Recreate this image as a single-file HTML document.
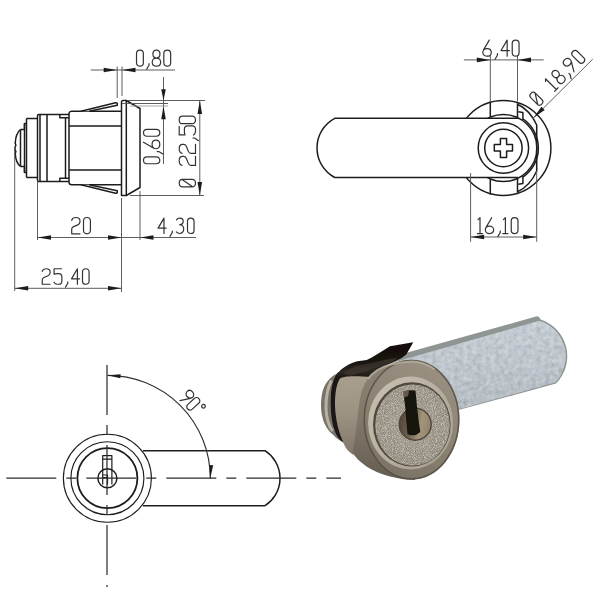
<!DOCTYPE html>
<html><head><meta charset="utf-8"><title>Cam lock drawing</title><style>
html,body{margin:0;padding:0;background:#fff;overflow:hidden;font-family:"Liberation Sans",sans-serif}
svg{display:block}
.ol{fill:none;stroke:#1e1e1e;stroke-width:1.5;stroke-linejoin:round}
.dm{fill:none;stroke:#555;stroke-width:0.95}
.dm2{fill:none;stroke:#9a9a9a;stroke-width:0.9}
.arc{fill:none;stroke:#2e2e2e;stroke-width:1.15}
.cl{fill:none;stroke:#2a2a2a;stroke-width:1.2;stroke-dasharray:50 10 10 10}
.t path{vector-effect:non-scaling-stroke}
</style></head>
<body><svg width="600" height="600" viewBox="0 0 600 600">
<rect width="600" height="600" fill="#fff"/>

<defs>
 <filter id="grain" x="-5%" y="-5%" width="110%" height="110%">
  <feTurbulence type="fractalNoise" baseFrequency="1.1" numOctaves="2" seed="7" result="n"/>
  <feColorMatrix in="n" type="saturate" values="0" result="g"/>
  <feComponentTransfer in="g" result="g2">
   <feFuncR type="linear" slope="0.8" intercept="0.1"/>
   <feFuncG type="linear" slope="0.8" intercept="0.1"/>
   <feFuncB type="linear" slope="0.8" intercept="0.1"/>
   <feFuncA type="linear" slope="0" intercept="1"/>
  </feComponentTransfer>
  <feBlend in="SourceGraphic" in2="g2" mode="overlay" result="b"/>
  <feComposite in="b" in2="SourceGraphic" operator="in"/>
 </filter>
 <filter id="grain2" x="-5%" y="-5%" width="110%" height="110%">
  <feTurbulence type="fractalNoise" baseFrequency="0.22" numOctaves="3" seed="11" result="n"/>
  <feColorMatrix in="n" type="saturate" values="0" result="g"/>
  <feComponentTransfer in="g" result="g2">
   <feFuncR type="linear" slope="0.4" intercept="0.3"/>
   <feFuncG type="linear" slope="0.4" intercept="0.3"/>
   <feFuncB type="linear" slope="0.4" intercept="0.3"/>
   <feFuncA type="linear" slope="0" intercept="1"/>
  </feComponentTransfer>
  <feBlend in="SourceGraphic" in2="g2" mode="overlay" result="b"/>
  <feComposite in="b" in2="SourceGraphic" operator="in"/>
 </filter>
 <filter id="lineblur" x="0" y="0" width="100%" height="100%" filterUnits="userSpaceOnUse"><feGaussianBlur stdDeviation="0.35"/></filter>
 <filter id="soft" x="-5%" y="-5%" width="110%" height="110%"><feGaussianBlur stdDeviation="0.6"/></filter>
 <linearGradient id="clipG" x1="0" y1="0" x2="0.1" y2="1"><stop offset="0" stop-color="#100e0c"/><stop offset="0.55" stop-color="#17130f"/><stop offset="0.8" stop-color="#2e2823"/><stop offset="1" stop-color="#1a1511"/></linearGradient>
 <linearGradient id="levG" x1="0" y1="0" x2="0.15" y2="1"><stop offset="0" stop-color="#c8cfd6"/><stop offset="0.5" stop-color="#bfc7ce"/><stop offset="1" stop-color="#b3bbc2"/></linearGradient>
 <linearGradient id="bodyG" x1="0" y1="0" x2="0" y2="1"><stop offset="0" stop-color="#a89f8f"/><stop offset="0.4" stop-color="#9e9484"/><stop offset="1" stop-color="#7b7366"/></linearGradient>
 <linearGradient id="sideG" x1="0" y1="0" x2="0" y2="1"><stop offset="0" stop-color="#8c8374"/><stop offset="0.5" stop-color="#80786a"/><stop offset="1" stop-color="#655d51"/></linearGradient>
 <linearGradient id="bezG" x1="0.7" y1="0" x2="0.3" y2="1"><stop offset="0" stop-color="#9a9182"/><stop offset="0.5" stop-color="#8c8374"/><stop offset="1" stop-color="#7a7264"/></linearGradient>
 <linearGradient id="rimG" x1="0" y1="0" x2="1" y2="1"><stop offset="0" stop-color="#c9c2b3"/><stop offset="1" stop-color="#a59e8f"/></linearGradient>
 <radialGradient id="faceG" cx="0.5" cy="0.45" r="0.6"><stop offset="0" stop-color="#aaa395"/><stop offset="1" stop-color="#9b9486"/></radialGradient>
 <linearGradient id="plugG" x1="0" y1="0" x2="1" y2="0.2"><stop offset="0" stop-color="#4e4335"/><stop offset="0.45" stop-color="#6e614e"/><stop offset="0.75" stop-color="#a3957b"/><stop offset="1" stop-color="#948670"/></linearGradient>
 <linearGradient id="backG" x1="0" y1="0" x2="1" y2="0">
  <stop offset="0" stop-color="#a09a8f"/><stop offset="0.35" stop-color="#6f695f"/><stop offset="1" stop-color="#4a453e"/>
 </linearGradient>
</defs>
<g id="photo" filter="url(#soft)">
 <!-- lever -->
 <path d="M385,358.8 L536,316.5 Q539,315.6 540.6,319.6 A38.6,38.6 0 0 1 556,383.6 L440,415 L400,420 Z" fill="#8f9592"/>
 <path d="M385,364.7 L539,320.8 A37,37 0 0 1 555,382.5 L440,414.6 L400,420 Z" fill="url(#levG)" filter="url(#grain2)"/>
 <!-- back ring -->
 <path d="M342,372.3 C333,373.5 326,381 323,390 C320.5,398 320.5,410 322.3,416.7 C324,424 328,431 333.7,435.3 C336,438 338.5,440 342,441.5 Z" fill="#77726a"/>
 <path d="M331.5,380.5 C327.5,388 325.8,398 326,408 C326.2,418 328.3,425 332.5,431" fill="none" stroke="#b9b2a2" stroke-width="3"/>
 <!-- black clip band -->
 <path d="M338,372.3 C333.5,378 331.2,386 330.8,397 C330.4,410 331.5,422 334.5,430 C336.5,436 339.5,440 343,442.5 L347,442 L346,375 Z" fill="#1b1713"/>
 <!-- clip top wedge -->
 <path d="M336,376 L338.3,372.5 C341,369.5 344,367.3 346.7,365.8 C350,363.6 354,361.8 357.5,361.2 L366.7,360 L371.7,357.5 L380,352.5 L390,346.3 L413.3,342.3 L406.3,354.5 L401.7,358 L385,366 L366,379 L352,377 L340,378 Z" fill="url(#clipG)"/>
 <path d="M343,373 C350,367.5 358,365 368,364 L386,359.5 L398,357.5 L392,362 L372,369.5 L350,376 Z" fill="#3a332c" opacity="0.85"/>
 <!-- body -->
 <path d="M340,378.5 C343,376.6 350,375.8 358,376.3 L372,377 L372,462 L352,454 C347.5,451 345,447 343.5,443 C339,433 335.3,420 335,405 C335,392 336.6,383.5 340,378.5 Z" fill="url(#bodyG)"/>
 <!-- bezel side -->
 <path d="M413,359.8 C401,360.5 386,364 375,371 C366,377.5 361,390 359,405 C357,420 355.5,440 352.5,452.5 C358,462 372,472 390,476.5 C400,479 408,480 415,480 Z" fill="url(#sideG)"/>
 <!-- bezel front -->
 <ellipse cx="411.5" cy="419.6" rx="48" ry="59.9" fill="url(#bezG)"/>
 <ellipse cx="411.5" cy="419.6" rx="47.2" ry="59.1" fill="none" stroke="#4e473d" stroke-width="1.6" opacity="0.75"/>
 <path d="M368,379 C373,372 380,367.5 390,364.8 C398,362.6 405,361.6 411.5,361.5 A46.3,58.1 0 0 1 434.6,369.3" fill="none" stroke="#b9b1a2" stroke-width="2.2" opacity="0.75"/>
 <ellipse cx="410.6" cy="423" rx="42.5" ry="46.4" fill="url(#rimG)"/>
 <ellipse cx="411.8" cy="424.4" rx="38.8" ry="42.1" fill="#4f483e"/>
 <ellipse cx="412.5" cy="425" rx="37.2" ry="40.5" fill="url(#faceG)" filter="url(#grain)"/>
 <!-- plug -->
 <circle cx="415.2" cy="424.2" r="16" fill="url(#plugG)" stroke="#4f463a" stroke-width="1.4"/>
 <path d="M403.3,391.5 Q409,389.6 415.5,390.6 L417,407 L418.7,421 L420.3,432 Q414.5,437.5 407.5,434 L406.3,421 L405.2,407 Z" fill="#17120e"/>
 <path d="M403.3,391.5 Q406,390.5 409,390.4 L408.2,396 L404,397.5 Z" fill="#7a6d5e" opacity="0.8"/>
</g>

<g filter="url(#lineblur)">
<path class="ol" d="M20.5,129.5 C17.6,131.8 15.6,137 15.2,143.2 L15.9,145.2 L15,147.2 L15,149.6 L15.9,151.6 L15.2,153.6 C15.6,159.5 17.6,164.3 20.5,166.5" />
<line class="ol" x1="20.5" y1="129.5" x2="20.5" y2="166.5"/>
<path class="ol" d="M20.5,129.5 L24.5,129.5 M20.5,166.5 L24.5,166.5" />
<path class="ol" d="M24.5,166.5 L24.5,172.5 L26.5,172.5 M24.5,129.5 L24.5,123.5 L26.5,123.5" />
<line class="ol" x1="24.5" y1="123.5" x2="24.5" y2="172.5"/>
<line class="ol" x1="26.5" y1="118.5" x2="26.5" y2="177.5"/>
<path class="ol" d="M26.5,118.5 L37.5,118.5 M26.5,177.5 L37.5,177.5" />
<path class="ol" d="M37.5,180.5 L37.5,115.5 Q37.5,114.5 38.5,114.5 L69,114.5 M37.5,180.5 Q37.5,181.5 38.5,181.5 L69,181.5" />
<line class="ol" x1="40" y1="114.5" x2="40" y2="181.5"/>
<line class="ol" x1="47" y1="114.5" x2="47" y2="181.5"/>
<path class="ol" d="M59.8,114.5 L59.8,117.8 L69,117.8 M59.8,181.5 L59.8,178.2 L69,178.2" />
<line class="ol" x1="65.5" y1="118" x2="65.5" y2="178"/>
<path class="ol" d="M69,182.7 L69,113.3 Q69.5,111.3 71.5,111.3 L121.5,111.3 M69,182.7 Q69.5,184.7 71.5,184.7 L121.5,184.7" />
<line class="ol" x1="69" y1="126" x2="121.5" y2="126"/>
<line class="ol" x1="69" y1="170" x2="121.5" y2="170"/>
<path class="ol" d="M81,111.3 L115.5,102.8 Q117.5,102.6 117.3,104.5 L117.3,105.3 L89,111.3" style="fill:#fff"/>
<path class="ol" d="M81,184.7 L115.5,193.2 Q117.5,193.4 117.3,191.5 L117.3,190.7 L89,184.7" style="fill:#fff"/>
<path class="ol" d="M121.5,195.5 L121.5,101.8 Q121.6,100.5 123,100.5 L126.3,100.5 L140,108.5 L140,187.5 L126.3,195.5 Z" style="fill:#fff"/>
<line class="ol" x1="126.3" y1="100.5" x2="126.3" y2="195.5"/>
<line class="dm" x1="90.8" y1="70" x2="175" y2="70"/>
<polygon fill="#1e1e1e" points="117.20,70.00 103.70,72.30 103.70,67.70"/>
<polygon fill="#1e1e1e" points="122.00,70.00 135.50,67.70 135.50,72.30"/>
<line class="dm" x1="117.2" y1="66.5" x2="117.2" y2="98"/>
<line class="dm" x1="122" y1="66.5" x2="122" y2="96"/>
<g transform="translate(0,66.2) scale(1.0063,1.0063)" fill="none" stroke="#333" stroke-width="1.2" stroke-linecap="round" stroke-linejoin="round" class="t" role="img" aria-label="0,80"><title>0,80</title><path transform="translate(134.752,0)" d="M0.9,-12.6 C0.9,-14.8 2.3,-16 4.3,-16 C6.3,-16 7.7,-14.8 7.7,-12.6 L7.7,-3.4 C7.7,-1.2 6.3,0 4.3,0 C2.3,0 0.9,-1.2 0.9,-3.4 Z"/><path transform="translate(145.389,0)" d="M2.7,-2.6 L2.7,-1 L0.3,3"/><path transform="translate(151.155,0)" d="M4.3,-8.1 C2.2,-8.1 0.8,-9.6 0.8,-12 C0.8,-14.5 2.3,-16 4.3,-16 C6.3,-16 7.8,-14.5 7.8,-12 C7.8,-9.6 6.4,-8.1 4.3,-8.1 Z M4.3,-8.1 C1.8,-8.1 0.1,-6.5 0.1,-4 C0.1,-1.5 1.8,0 4.3,0 C6.8,0 8.5,-1.5 8.5,-4 C8.5,-6.5 6.8,-8.1 4.3,-8.1 Z"/><path transform="translate(161.883,0)" d="M0.9,-12.6 C0.9,-14.8 2.3,-16 4.3,-16 C6.3,-16 7.7,-14.8 7.7,-12.6 L7.7,-3.4 C7.7,-1.2 6.3,0 4.3,0 C2.3,0 0.9,-1.2 0.9,-3.4 Z"/></g>
<line class="dm" x1="163.5" y1="77" x2="163.5" y2="164"/>
<polygon fill="#1e1e1e" points="163.50,100.30 161.20,89.30 165.80,89.30"/>
<polygon fill="#1e1e1e" points="163.50,106.20 165.80,119.20 161.20,119.20"/>
<line class="dm" x1="128" y1="100.5" x2="205" y2="100.5"/>
<line class="dm" x1="122" y1="103.5" x2="168" y2="103.5"/>
<line class="dm2" x1="130" y1="106" x2="168" y2="106"/>
<g transform="translate(159.8,164) rotate(-90) scale(1.0188,1.0188)" fill="none" stroke="#333" stroke-width="1.2" stroke-linecap="round" stroke-linejoin="round" class="t" role="img" aria-label="0,60"><title>0,60</title><path transform="translate(-0.655,0)" d="M0.9,-12.6 C0.9,-14.8 2.3,-16 4.3,-16 C6.3,-16 7.7,-14.8 7.7,-12.6 L7.7,-3.4 C7.7,-1.2 6.3,0 4.3,0 C2.3,0 0.9,-1.2 0.9,-3.4 Z"/><path transform="translate(9.516,0)" d="M2.7,-2.6 L2.7,-1 L0.3,3"/><path transform="translate(14.769,0)" d="M6.6,-16 L0.9,-6.3 M0.2,-3.8 C0.2,-1.6 2,0 4.4,0 C6.8,0 8.6,-1.6 8.6,-3.8 C8.6,-6 6.8,-7.6 4.4,-7.6 C2,-7.6 0.2,-6 0.2,-3.8 Z"/><path transform="translate(26.339,0)" d="M0.9,-12.6 C0.9,-14.8 2.3,-16 4.3,-16 C6.3,-16 7.7,-14.8 7.7,-12.6 L7.7,-3.4 C7.7,-1.2 6.3,0 4.3,0 C2.3,0 0.9,-1.2 0.9,-3.4 Z"/></g>
<line class="dm" x1="199.8" y1="100.5" x2="199.8" y2="195.5"/>
<polygon fill="#1e1e1e" points="199.80,100.50 202.10,114.00 197.50,114.00"/>
<polygon fill="#1e1e1e" points="199.80,195.50 197.50,182.00 202.10,182.00"/>
<line class="dm" x1="130" y1="195.5" x2="204" y2="195.5"/>
<g transform="translate(195.5,187) rotate(-90) scale(1.1206,1.0188)" fill="none" stroke="#333" stroke-width="1.2" stroke-linecap="round" stroke-linejoin="round" class="t" role="img" aria-label="Ø 22,50"><title>Ø 22,50</title><path transform="translate(-0.811,0)" d="M0.9,-12.6 C0.9,-14.8 2.3,-16 4.3,-16 C6.3,-16 7.7,-14.8 7.7,-12.6 L7.7,-3.4 C7.7,-1.2 6.3,0 4.3,0 C2.3,0 0.9,-1.2 0.9,-3.4 Z M0.9,-2.5 L7.7,-13.5"/><path transform="translate(19.075,0)" d="M0.2,-13.2 C0.7,-15.2 2.2,-16 4.3,-16 C6.6,-16 8.3,-15 8.3,-12.8 L8.3,-11.5 C8.3,-10.2 7.6,-9.4 6.2,-8.8 L2,-7 C0.8,-6.5 0.2,-5.6 0.2,-4.5 L0.2,0 L8.3,0"/><path transform="translate(29.783,0)" d="M0.2,-13.2 C0.7,-15.2 2.2,-16 4.3,-16 C6.6,-16 8.3,-15 8.3,-12.8 L8.3,-11.5 C8.3,-10.2 7.6,-9.4 6.2,-8.8 L2,-7 C0.8,-6.5 0.2,-5.6 0.2,-4.5 L0.2,0 L8.3,0"/><path transform="translate(41.016,0)" d="M2.7,-2.6 L2.7,-1 L0.3,3"/><path transform="translate(46.203,0)" d="M8,-16 L0.3,-16 L0.3,-10.3 C1.3,-10.7 2.3,-10.9 3.5,-10.9 L5.2,-10.9 C7.2,-10.9 8.3,-9.5 8.3,-7.6 L8.3,-3 C8.3,-1.1 7.1,0 5.2,0 L3.6,0 C2,0 0.9,-0.7 0.2,-2"/><path transform="translate(55.586,0)" d="M0.9,-12.6 C0.9,-14.8 2.3,-16 4.3,-16 C6.3,-16 7.7,-14.8 7.7,-12.6 L7.7,-3.4 C7.7,-1.2 6.3,0 4.3,0 C2.3,0 0.9,-1.2 0.9,-3.4 Z"/></g>
<line class="dm" x1="14.7" y1="150" x2="14.7" y2="291"/>
<line class="dm" x1="37.5" y1="182" x2="37.5" y2="240"/>
<line class="dm" x1="121.5" y1="198" x2="121.5" y2="292"/>
<line class="dm" x1="140" y1="191" x2="140" y2="240"/>
<line class="dm" x1="37.5" y1="237.5" x2="196" y2="237.5"/>
<polygon fill="#1e1e1e" points="37.50,237.50 51.00,235.20 51.00,239.80"/>
<polygon fill="#1e1e1e" points="121.50,237.50 108.00,239.80 108.00,235.20"/>
<polygon fill="#1e1e1e" points="140.00,237.50 153.50,235.20 153.50,239.80"/>
<g transform="translate(0,233.8) scale(1.0188,1.0188)" fill="none" stroke="#333" stroke-width="1.2" stroke-linecap="round" stroke-linejoin="round" class="t" role="img" aria-label="20"><title>20</title><path transform="translate(70.180,0)" d="M0.2,-13.2 C0.7,-15.2 2.2,-16 4.3,-16 C6.6,-16 8.3,-15 8.3,-12.8 L8.3,-11.5 C8.3,-10.2 7.6,-9.4 6.2,-8.8 L2,-7 C0.8,-6.5 0.2,-5.6 0.2,-4.5 L0.2,0 L8.3,0"/><path transform="translate(81.063,0)" d="M0.9,-12.6 C0.9,-14.8 2.3,-16 4.3,-16 C6.3,-16 7.7,-14.8 7.7,-12.6 L7.7,-3.4 C7.7,-1.2 6.3,0 4.3,0 C2.3,0 0.9,-1.2 0.9,-3.4 Z"/></g>
<g transform="translate(0,233.5) scale(0.9625,0.9625)" fill="none" stroke="#333" stroke-width="1.2" stroke-linecap="round" stroke-linejoin="round" class="t" role="img" aria-label="4,30"><title>4,30</title><path transform="translate(164.260,0)" d="M6.1,0 L6.1,-16 L0,-5.6 L8.4,-5.6"/><path transform="translate(176.323,0)" d="M2.7,-2.6 L2.7,-1 L0.3,3"/><path transform="translate(183.069,0)" d="M0.3,-14.2 C1,-15.4 2.2,-16 3.7,-16 C5.9,-16 7.3,-14.7 7.3,-12.6 C7.3,-10.4 5.8,-9.1 3.4,-9.1 M3.4,-9.1 C6.2,-9.1 7.8,-7.5 7.8,-4.8 C7.8,-1.8 6,0 3.6,0 C2.1,0 0.9,-0.6 0.1,-1.6"/><path transform="translate(193.905,0)" d="M0.9,-12.6 C0.9,-14.8 2.3,-16 4.3,-16 C6.3,-16 7.7,-14.8 7.7,-12.6 L7.7,-3.4 C7.7,-1.2 6.3,0 4.3,0 C2.3,0 0.9,-1.2 0.9,-3.4 Z"/></g>
<line class="dm" x1="14.7" y1="288.3" x2="121.5" y2="288.3"/>
<polygon fill="#1e1e1e" points="14.70,288.30 28.20,286.00 28.20,290.60"/>
<polygon fill="#1e1e1e" points="121.50,288.30 108.00,290.60 108.00,286.00"/>
<g transform="translate(0,284.25) scale(0.9688,0.9688)" fill="none" stroke="#333" stroke-width="1.2" stroke-linecap="round" stroke-linejoin="round" class="t" role="img" aria-label="25,40"><title>25,40</title><path transform="translate(43.413,0)" d="M0.2,-13.2 C0.7,-15.2 2.2,-16 4.3,-16 C6.6,-16 8.3,-15 8.3,-12.8 L8.3,-11.5 C8.3,-10.2 7.6,-9.4 6.2,-8.8 L2,-7 C0.8,-6.5 0.2,-5.6 0.2,-4.5 L0.2,0 L8.3,0"/><path transform="translate(55.542,0)" d="M8,-16 L0.3,-16 L0.3,-10.3 C1.3,-10.7 2.3,-10.9 3.5,-10.9 L5.2,-10.9 C7.2,-10.9 8.3,-9.5 8.3,-7.6 L8.3,-3 C8.3,-1.1 7.1,0 5.2,0 L3.6,0 C2,0 0.9,-0.7 0.2,-2"/><path transform="translate(67.313,0)" d="M2.7,-2.6 L2.7,-1 L0.3,3"/><path transform="translate(73.806,0)" d="M6.1,0 L6.1,-16 L0,-5.6 L8.4,-5.6"/><path transform="translate(84.261,0)" d="M0.9,-12.6 C0.9,-14.8 2.3,-16 4.3,-16 C6.3,-16 7.7,-14.8 7.7,-12.6 L7.7,-3.4 C7.7,-1.2 6.3,0 4.3,0 C2.3,0 0.9,-1.2 0.9,-3.4 Z"/></g>
<circle class="ol" cx="503.4" cy="148" r="47.5"/>
<path class="ol" d="M522.9,118.9 A35.1,35.1 0 0 1 522.9,177.1" />
<circle class="ol" cx="503.4" cy="148" r="33.5"/>
<path class="ol" d="M518,118.3 L334.7,118.3 A33.6,33.6 0 0 0 334.7,177.5 L518,177.5" style="fill:#fff"/>
<path class="ol" d="M490.3,101.5 L490.3,116.8 M517.5,103.2 L517.5,118" />
<path class="ol" d="M490.3,194.5 L490.3,179.2 M517.5,192.8 L517.5,178" />
<path class="ol" d="M518.3,111.7 L522.9,112.6 L522.9,120 M518.3,184.3 L522.9,183.4 L522.9,176" />
<path class="ol" d="M517.5,104.2 Q530,110 536.7,125 L536.7,171 Q530,186 517.5,191.8" />
<circle class="ol" cx="503.4" cy="148" r="25.2" style="fill:#fff"/>
<circle class="ol" cx="503.4" cy="148" r="18.7"/>
<path class="ol" d="M500.4,138.6 L506.6,138.6 L506.6,144.4 L512.5,144.4 L512.5,151.1 L506.6,151.1 L506.6,157.4 L500.4,157.4 L500.4,151.1 L494.3,151.1 L494.3,144.4 L500.4,144.4 Z" />
<line class="dm" x1="490.3" y1="55.7" x2="490.3" y2="101.5"/>
<line class="dm" x1="517.5" y1="55.7" x2="517.5" y2="101.5"/>
<line class="dm" x1="463.9" y1="59.9" x2="543.7" y2="59.9"/>
<polygon fill="#1e1e1e" points="490.30,59.90 476.80,62.20 476.80,57.60"/>
<polygon fill="#1e1e1e" points="517.50,59.90 531.00,57.60 531.00,62.20"/>
<g transform="translate(0,56.2) scale(1.0063,1.0063)" fill="none" stroke="#333" stroke-width="1.2" stroke-linecap="round" stroke-linejoin="round" class="t" role="img" aria-label="6,40"><title>6,40</title><path transform="translate(479.601,0)" d="M6.6,-16 L0.9,-6.3 M0.2,-3.8 C0.2,-1.6 2,0 4.4,0 C6.8,0 8.6,-1.6 8.6,-3.8 C8.6,-6 6.8,-7.6 4.4,-7.6 C2,-7.6 0.2,-6 0.2,-3.8 Z"/><path transform="translate(491.625,0)" d="M2.7,-2.6 L2.7,-1 L0.3,3"/><path transform="translate(497.888,0)" d="M6.1,0 L6.1,-16 L0,-5.6 L8.4,-5.6"/><path transform="translate(508.119,0)" d="M0.9,-12.6 C0.9,-14.8 2.3,-16 4.3,-16 C6.3,-16 7.7,-14.8 7.7,-12.6 L7.7,-3.4 C7.7,-1.2 6.3,0 4.3,0 C2.3,0 0.9,-1.2 0.9,-3.4 Z"/></g>
<line class="dm" x1="532.7" y1="118.8" x2="592.7" y2="59.2"/>
<polygon fill="#1e1e1e" points="533.50,117.80 541.42,106.63 544.67,109.88"/>
<g transform="translate(534.46,111.46) rotate(-45) scale(0.9563,0.9563)" fill="none" stroke="#333" stroke-width="1.2" stroke-linecap="round" stroke-linejoin="round" class="t" role="img" aria-label="Ø 18,90"><title>Ø 18,90</title><path transform="translate(6.525,0)" d="M0.9,-12.6 C0.9,-14.8 2.3,-16 4.3,-16 C6.3,-16 7.7,-14.8 7.7,-12.6 L7.7,-3.4 C7.7,-1.2 6.3,0 4.3,0 C2.3,0 0.9,-1.2 0.9,-3.4 Z M0.9,-2.5 L7.7,-13.5"/><path transform="translate(29.004,0)" d="M1.4,-14 L3.4,-16 L3.4,0 M0.8,0 L6,0"/><path transform="translate(39.116,0)" d="M4.3,-8.1 C2.2,-8.1 0.8,-9.6 0.8,-12 C0.8,-14.5 2.3,-16 4.3,-16 C6.3,-16 7.8,-14.5 7.8,-12 C7.8,-9.6 6.4,-8.1 4.3,-8.1 Z M4.3,-8.1 C1.8,-8.1 0.1,-6.5 0.1,-4 C0.1,-1.5 1.8,0 4.3,0 C6.8,0 8.5,-1.5 8.5,-4 C8.5,-6.5 6.8,-8.1 4.3,-8.1 Z"/><path transform="translate(50.942,0)" d="M2.7,-2.6 L2.7,-1 L0.3,3"/><path transform="translate(56.271,0)" d="M2.2,0 L7.9,-9.7 M8.6,-12.2 C8.6,-14.4 6.8,-16 4.4,-16 C2,-16 0.2,-14.4 0.2,-12.2 C0.2,-10 2,-8.4 4.4,-8.4 C6.8,-8.4 8.6,-10 8.6,-12.2 Z"/><path transform="translate(68.433,0)" d="M0.9,-12.6 C0.9,-14.8 2.3,-16 4.3,-16 C6.3,-16 7.7,-14.8 7.7,-12.6 L7.7,-3.4 C7.7,-1.2 6.3,0 4.3,0 C2.3,0 0.9,-1.2 0.9,-3.4 Z"/></g>
<line class="dm" x1="470.6" y1="173" x2="470.6" y2="241.8"/>
<line class="dm" x1="536.7" y1="171" x2="536.7" y2="241.8"/>
<line class="dm" x1="470.6" y1="237" x2="536.7" y2="237"/>
<polygon fill="#1e1e1e" points="470.60,237.00 484.10,234.70 484.10,239.30"/>
<polygon fill="#1e1e1e" points="536.70,237.00 523.20,239.30 523.20,234.70"/>
<g transform="translate(0,233.6) scale(0.9938,0.9938)" fill="none" stroke="#333" stroke-width="1.2" stroke-linecap="round" stroke-linejoin="round" class="t" role="img" aria-label="16,10"><title>16,10</title><path transform="translate(479.603,0)" d="M1.4,-14 L3.4,-16 L3.4,0 M0.8,0 L6,0"/><path transform="translate(488.152,0)" d="M6.6,-16 L0.9,-6.3 M0.2,-3.8 C0.2,-1.6 2,0 4.4,0 C6.8,0 8.6,-1.6 8.6,-3.8 C8.6,-6 6.8,-7.6 4.4,-7.6 C2,-7.6 0.2,-6 0.2,-3.8 Z"/><path transform="translate(500.631,0)" d="M2.7,-2.6 L2.7,-1 L0.3,3"/><path transform="translate(505.162,0)" d="M1.4,-14 L3.4,-16 L3.4,0 M0.8,0 L6,0"/><path transform="translate(513.515,0)" d="M0.9,-12.6 C0.9,-14.8 2.3,-16 4.3,-16 C6.3,-16 7.7,-14.8 7.7,-12.6 L7.7,-3.4 C7.7,-1.2 6.3,0 4.3,0 C2.3,0 0.9,-1.2 0.9,-3.4 Z"/></g>
<circle class="ol" cx="107.4" cy="478.2" r="44" style="stroke-width:1.15"/>
<circle class="ol" cx="107.4" cy="478.2" r="36.5" style="stroke-width:1.15"/>
<circle class="ol" cx="107.4" cy="478.2" r="30" style="stroke-width:1.8"/>
<circle class="ol" cx="107.4" cy="478.2" r="9.5"/>
<path class="ol" d="M102.7,484.5 L102.7,455.7 L111.9,455.7 L111.9,484.5 M102.7,459.2 L111.9,459.2 M102.7,475 L107.5,475 L107.5,484.5 M102.7,477.5 L107.5,477.5" style="stroke-width:1.2"/>
<path class="ol" d="M143,450.7 L265,450.7 A32.7,32.7 0 0 1 265,505.7 L143,505.7" />
<line class="cl" x1="6.3" y1="478.2" x2="341" y2="478.2"/>
<line class="cl" x1="107" y1="365" x2="107" y2="587"/>
<path class="arc" d="M107.4,375.3 A102.9,102.9 0 0 1 210.3,478.2" />
<polygon fill="#1e1e1e" points="107.50,375.30 120.61,374.21 120.33,378.20"/>
<polygon fill="#1e1e1e" points="210.30,478.20 209.21,465.09 213.20,465.37"/>
<g transform="translate(178.55,399.14) rotate(47) scale(0.9500,0.9500)" fill="none" stroke="#333" stroke-width="1.2" stroke-linecap="round" stroke-linejoin="round" class="t" role="img" aria-label="90°"><title>90°</title><path transform="translate(0.011,0)" d="M2.2,0 L7.9,-9.7 M8.6,-12.2 C8.6,-14.4 6.8,-16 4.4,-16 C2,-16 0.2,-14.4 0.2,-12.2 C0.2,-10 2,-8.4 4.4,-8.4 C6.8,-8.4 8.6,-10 8.6,-12.2 Z"/><path transform="translate(9.889,0)" d="M0.9,-12.6 C0.9,-14.8 2.3,-16 4.3,-16 C6.3,-16 7.7,-14.8 7.7,-12.6 L7.7,-3.4 C7.7,-1.2 6.3,0 4.3,0 C2.3,0 0.9,-1.2 0.9,-3.4 Z"/><path transform="translate(21.374,0)" d="M2,-16 C3.1,-16 3.9,-15.2 3.9,-14.1 C3.9,-13 3.1,-12.2 2,-12.2 C0.9,-12.2 0.1,-13 0.1,-14.1 C0.1,-15.2 0.9,-16 2,-16 Z"/></g>
</g>
</svg></body></html>
